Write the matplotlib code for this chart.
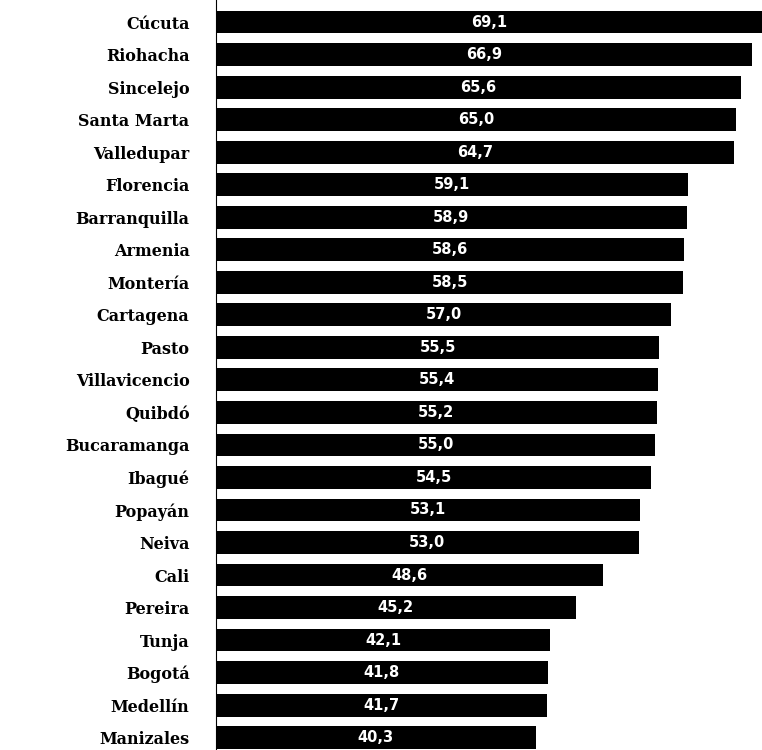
import matplotlib
matplotlib.use('Agg')
from matplotlib import pyplot as plt
import numpy as np

ciudades = ['Cúcuta', 'Riohacha', 'Sincelejo', 'Santa Marta', 'Valledupar', 'Florencia',
            'Barranquilla', 'Armenia', 'Montería', 'Cartagena', 'Pasto', 'Villavicencio',
            'Quibdó', 'Bucaramanga', 'Ibagué', 'Popayán', 'Neiva', 'Cali', 'Pereira',
            'Tunja', 'Bogotá', 'Medellín', 'Manizales']
valores = [69.1, 66.9, 65.6, 65.0, 64.7, 59.1, 58.9, 58.6, 58.5, 57.0, 55.5, 55.4,
           55.2, 55.0, 54.5, 53.1, 53.0, 48.6, 45.2, 42.1, 41.8, 41.7, 40.3]
etiquetas = [f'{v:.1f}'.replace('.', ',') for v in valores]

fig = plt.figure(figsize=(7.62, 7.5), dpi=100)
ax = fig.add_axes([216 / 762, 0, 1 - 216 / 762, 1])

xmin, xmax = 0.86, 68.19
y = np.arange(len(ciudades))
bars = ax.barh(y, valores, height=0.70, color='black')

# etiqueta centrada en la parte visible de la barra
for b, lab in zip(bars, etiquetas):
    xc = (max(xmin, b.get_x()) + min(xmax, b.get_x() + b.get_width())) / 2
    ax.text(xc, b.get_y() + b.get_height() / 2, lab,
            ha='center', va='center', color='white', fontsize=10.5,
            fontweight='bold', family='DejaVu Sans')

ax.set_xlim(xmin, xmax)
ax.set_ylim(22.38, -0.68)
ax.set_yticks(y)
ax.set_yticklabels(ciudades, fontsize=11.5, fontweight='bold', family='DejaVu Serif')
ax.tick_params(axis='y', length=0, pad=19)
ax.set_xticks([])
for s in ['top', 'right', 'bottom']:
    ax.spines[s].set_visible(False)
ax.spines['left'].set_linewidth(0.8)

fig.savefig('out.png', dpi=100)
